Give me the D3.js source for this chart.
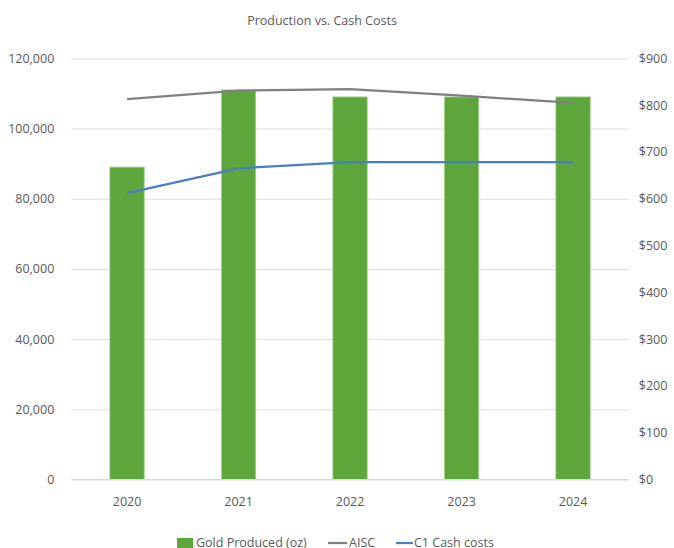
<!DOCTYPE html>
<html>
  <head>
    <meta charset="utf-8">
    <title>Production vs. Cash Costs</title>
    <script src="https://d3js.org/d3.v7.min.js"></script>
    <style>
      body { margin: 0; background: #fff; }
      svg text { font-family: "Open Sans", sans-serif; fill: #595959; }
    </style>
  </head>
  <body>
    <svg id="chart" width="674" height="548"></svg>
    <script>
      // chart data
      years = ["2020", "2021", "2022", "2023", "2024"];
      goldProduced = [89000, 111000, 109000, 109000, 109000];
      aisc = [813, 831, 834, 820, 805];
      c1Cash = [612, 665, 678, 678, 678];
      leftTicks = [0, 20000, 40000, 60000, 80000, 100000, 120000];
      rightTicks = [0, 100, 200, 300, 400, 500, 600, 700, 800, 900];

      svg = d3.select("#chart");
      fontSize = 12.5;
      left = 71.3;
      right = 628.8;
      top_ = 58.3;
      bottom = 479.5;

      x = d3.scaleBand()
        .domain(years)
        .range([left, right])
        .padding(0);
      yLeft = d3.scaleLinear()
        .domain([0, 120000])
        .range([bottom, top_]);
      yRight = d3.scaleLinear()
        .domain([0, 900])
        .range([bottom, top_]);
      barWidth = x.bandwidth() * 0.308;
      cx = function(d) { return x(d) + x.bandwidth() / 2; };

      function styleText(sel) {
        sel.selectAll("text")
          .attr("font-size", fontSize)
          .attr("fill", "#595959")
          .style("font-family", "'Open Sans', sans-serif");
      }

      // gridlines
      svg.append("g")
        .attr("transform", "translate(" + left + ",0)")
        .call(d3.axisLeft(yLeft).tickValues(leftTicks).tickSize(-(right - left)).tickFormat(""))
        .call(function(g) { g.select(".domain").remove(); })
        .selectAll("line")
          .attr("stroke", "#dedede");

      // left labels
      svg.append("g")
        .attr("transform", "translate(" + left + ",0)")
        .call(d3.axisLeft(yLeft).tickValues(leftTicks).tickSize(0).tickPadding(17).tickFormat(d3.format(",")))
        .call(function(g) { g.select(".domain").remove(); })
        .call(styleText);

      // right labels
      svg.append("g")
        .attr("transform", "translate(" + right + ",0)")
        .call(d3.axisRight(yRight).tickValues(rightTicks).tickSize(0).tickPadding(10).tickFormat(function(d) { return "$" + d; }))
        .call(function(g) { g.select(".domain").remove(); })
        .call(styleText);

      // bars
      svg.append("g")
        .selectAll("rect")
          .data(goldProduced)
        .enter().append("rect")
          .attr("x", function(d, i) { return cx(years[i]) - barWidth / 2; })
          .attr("y", function(d) { return yLeft(d); })
          .attr("width", barWidth)
          .attr("height", function(d) { return bottom - yLeft(d); })
          .attr("fill", "#5da63c")
          .attr("stroke", "#a9d18e")
          .attr("stroke-width", 0.8);

      // baseline
      svg.append("line")
        .attr("x1", left).attr("x2", right)
        .attr("y1", bottom).attr("y2", bottom)
        .attr("stroke", "#d9d9d9");

      // x labels
      svg.append("g")
        .attr("transform", "translate(0," + bottom + ")")
        .call(d3.axisBottom(x).tickSize(0).tickPadding(18))
        .call(function(g) { g.select(".domain").remove(); })
        .call(styleText);

      // lines
      line = d3.line()
        .x(function(d, i) { return cx(years[i]); })
        .y(function(d) { return yRight(d); });
      svg.append("path")
        .datum(aisc)
        .attr("d", line)
        .attr("fill", "none")
        .attr("stroke", "#808080")
        .attr("stroke-width", 2.25);
      svg.append("path")
        .datum(c1Cash)
        .attr("d", line)
        .attr("fill", "none")
        .attr("stroke", "#4a7ec2")
        .attr("stroke-width", 2.25);

      // title
      svg.append("text")
        .attr("x", 322)
        .attr("y", 25)
        .attr("text-anchor", "middle")
        .attr("font-size", fontSize)
        .text("Production vs. Cash Costs");

      // legend
      legend = svg.append("g");
      legend.append("rect")
        .attr("x", 177).attr("y", 538)
        .attr("width", 16).attr("height", 10)
        .attr("fill", "#5da63c");
      legend.append("text")
        .attr("x", 196).attr("y", 547)
        .attr("font-size", fontSize)
        .text("Gold Produced (oz)");
      legend.append("line")
        .attr("x1", 328).attr("x2", 347)
        .attr("y1", 543).attr("y2", 543)
        .attr("stroke", "#808080").attr("stroke-width", 2.25);
      legend.append("text")
        .attr("x", 349).attr("y", 547)
        .attr("font-size", fontSize)
        .text("AISC");
      legend.append("line")
        .attr("x1", 396).attr("x2", 413)
        .attr("y1", 543).attr("y2", 543)
        .attr("stroke", "#4a7ec2").attr("stroke-width", 2.25);
      legend.append("text")
        .attr("x", 414).attr("y", 547)
        .attr("font-size", fontSize)
        .text("C1 Cash costs");
    </script>
  </body>
</html>
